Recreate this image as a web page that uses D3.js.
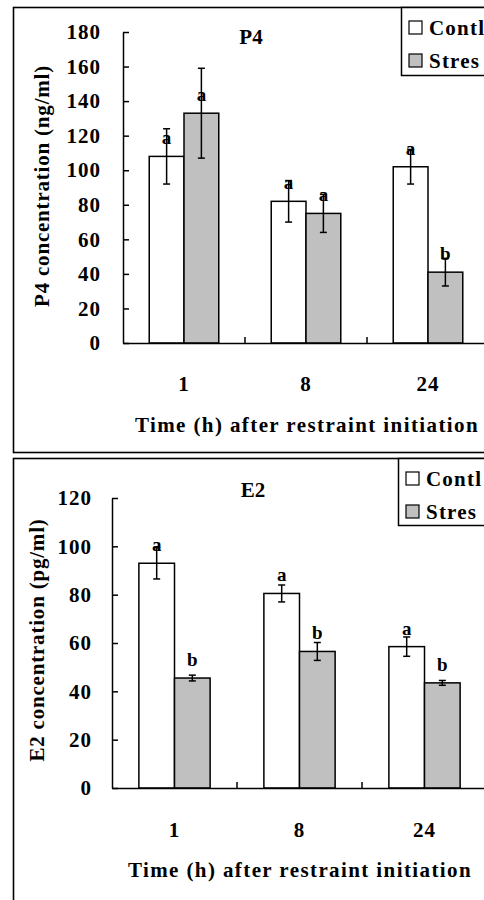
<!DOCTYPE html>
<html>
<head>
<meta charset="utf-8">
<script src="https://cdn.jsdelivr.net/npm/d3@7/dist/d3.min.js"></script>
<style>
  body { margin: 0; background: #fff; }
  svg text { font-family: "Liberation Serif", "Times New Roman", serif; font-weight: bold; fill: #000; }
</style>
</head>
<body>
<div id="chart"></div>
<script>
var timeLabels = ["1", "8", "24"];
var seriesNames = ["Contl", "Stres"];

// P4 (ng/ml)
var p4Control = [108, 82, 102];
var p4ControlErr = [16, 12, 10];
var p4Stress = [133, 75, 41];
var p4StressErr = [26, 11, 8];
var p4ControlLetters = ["a", "a", "a"];
var p4StressLetters = ["a", "a", "b"];
var p4Ticks = [0, 20, 40, 60, 80, 100, 120, 140, 160, 180];

// E2 (pg/ml)
var e2Control = [93, 80.5, 58.5];
var e2ControlErr = [6.5, 3.5, 4];
var e2Stress = [45.5, 56.5, 43.5];
var e2StressErr = [1.2, 3.7, 1];
var e2ControlLetters = ["a", "a", "a"];
var e2StressLetters = ["b", "b", "b"];
var e2Ticks = [0, 20, 40, 60, 80, 100, 120];

var fills = ["#ffffff", "#c0c0c0"];

var svg = d3.select("#chart").append("svg")
    .attr("width", 484)
    .attr("height", 900);

drawPanel({
  frame: {x: 13, y: 7, h: 445},
  plot: {left: 123, right: 489, top: 32, bottom: 343},
  ticks: p4Ticks,
  control: p4Control, controlErr: p4ControlErr, controlLetters: p4ControlLetters,
  stress: p4Stress, stressErr: p4StressErr, stressLetters: p4StressLetters,
  title: "P4", titleX: 251, titleY: 44,
  yTitle: "P4 concentration (ng/ml)", yTitleX: 49, yTitleY: 186,
  xTitleX: 307, xTitleY: 432,
  tickPad: 22, labelPad: 33,
  legend: {x: 401, y: 7, h: 68}
});

drawPanel({
  frame: {x: 13, y: 458, h: 460},
  plot: {left: 112, right: 487, top: 498, bottom: 788},
  ticks: e2Ticks,
  control: e2Control, controlErr: e2ControlErr, controlLetters: e2ControlLetters,
  stress: e2Stress, stressErr: e2StressErr, stressLetters: e2StressLetters,
  title: "E2", titleX: 253, titleY: 497,
  yTitle: "E2 concentration (pg/ml)", yTitleX: 44, yTitleY: 640,
  xTitleX: 300, xTitleY: 877,
  tickPad: 20, labelPad: 34,
  legend: {x: 398, y: 458, h: 67}
});

function drawPanel(o) {
  var g = svg.append("g");
  var p = o.plot;

  // outer frame
  g.append("rect")
    .attr("x", o.frame.x + 0.5).attr("y", o.frame.y + 0.5)
    .attr("width", 600).attr("height", o.frame.h)
    .attr("fill", "none").attr("stroke", "#000").attr("stroke-width", 1.6);

  var x = d3.scaleBand().domain(timeLabels).range([p.left, p.right])
      .paddingInner(0.43).paddingOuter(0.215);
  var xs = d3.scaleBand().domain([0, 1]).range([0, x.bandwidth()]);
  var y = d3.scaleLinear().domain([0, d3.max(o.ticks)]).range([p.bottom, p.top]);

  var rows = [];
  timeLabels.forEach(function(t, i) {
    rows.push({t: t, s: 0, v: o.control[i], e: o.controlErr[i], l: o.controlLetters[i]});
    rows.push({t: t, s: 1, v: o.stress[i], e: o.stressErr[i], l: o.stressLetters[i]});
  });
  var cx = function(d) { return x(d.t) + xs(d.s) + xs.bandwidth() / 2; };

  g.selectAll(".bar").data(rows).enter().append("rect")
    .attr("class", "bar")
    .attr("x", function(d) { return x(d.t) + xs(d.s); })
    .attr("y", function(d) { return y(d.v); })
    .attr("width", xs.bandwidth())
    .attr("height", function(d) { return y(0) - y(d.v); })
    .attr("fill", function(d) { return fills[d.s]; })
    .attr("stroke", "#000").attr("stroke-width", 1.5);

  var err = g.selectAll(".err").data(rows).enter().append("g").attr("class", "err")
    .attr("stroke", "#000").attr("stroke-width", 1.5);
  err.append("line")
    .attr("x1", cx).attr("x2", cx)
    .attr("y1", function(d) { return y(d.v + d.e); })
    .attr("y2", function(d) { return y(d.v - d.e); });
  [1, -1].forEach(function(k) {
    err.append("line")
      .attr("x1", function(d) { return cx(d) - 3.5; })
      .attr("x2", function(d) { return cx(d) + 3.5; })
      .attr("y1", function(d) { return y(d.v + k * d.e); })
      .attr("y2", function(d) { return y(d.v + k * d.e); });
  });

  g.selectAll(".sig").data(rows).enter().append("text")
    .attr("class", "sig")
    .attr("x", cx)
    .attr("y", function(d) { return y(d.v) - 12; })
    .attr("text-anchor", "middle")
    .style("font-size", "19px")
    .text(function(d) { return d.l; });

  // y axis, ticks point inward
  var ya = g.append("g")
    .attr("transform", "translate(" + p.left + ",0)")
    .call(d3.axisLeft(y).tickValues(o.ticks).tickSizeInner(-6).tickSizeOuter(0).tickPadding(o.tickPad));
  ya.selectAll("text").style("font-size", "21px").style("letter-spacing", "1px");
  ya.selectAll("path, line").attr("stroke", "#000").attr("stroke-width", 1.5);

  // x axis with labels at group centres
  var xa = g.append("g")
    .attr("transform", "translate(0," + p.bottom + ")")
    .call(d3.axisBottom(x).tickSize(0).tickPadding(o.labelPad));
  xa.selectAll("text").style("font-size", "21px").style("letter-spacing", "1px");
  xa.select(".domain").attr("stroke", "#000").attr("stroke-width", 1.5);

  // separator ticks between groups
  g.selectAll(".sep").data(timeLabels.slice(1)).enter().append("line")
    .attr("x1", function(t) { return x(t) - x.step() * x.paddingInner() / 2; })
    .attr("x2", function(t) { return x(t) - x.step() * x.paddingInner() / 2; })
    .attr("y1", p.bottom).attr("y2", p.bottom - 6)
    .attr("stroke", "#000").attr("stroke-width", 1.5);

  g.append("text")
    .attr("x", o.titleX).attr("y", o.titleY)
    .attr("text-anchor", "middle")
    .style("font-size", "21px")
    .text(o.title);

  g.append("text")
    .attr("x", o.xTitleX).attr("y", o.xTitleY)
    .attr("text-anchor", "middle")
    .style("font-size", "21px").style("letter-spacing", "1.4px")
    .text("Time (h) after restraint initiation");

  g.append("text")
    .attr("transform", "translate(" + o.yTitleX + "," + o.yTitleY + ") rotate(-90)")
    .attr("text-anchor", "middle")
    .style("font-size", "21px").style("letter-spacing", "0.8px")
    .text(o.yTitle);

  // legend
  var lg = g.append("g").attr("transform", "translate(" + o.legend.x + "," + o.legend.y + ")");
  lg.append("rect")
    .attr("x", 0.5).attr("y", 0.5).attr("width", 200).attr("height", o.legend.h)
    .attr("fill", "#fff").attr("stroke", "#000").attr("stroke-width", 1.5);
  seriesNames.forEach(function(name, i) {
    lg.append("rect")
      .attr("x", 8).attr("y", 14 + i * 33).attr("width", 13).attr("height", 13)
      .attr("fill", fills[i]).attr("stroke", "#000").attr("stroke-width", 1.2);
    lg.append("text")
      .attr("x", 28).attr("y", 28 + i * 33)
      .style("font-size", "21px").style("letter-spacing", "1.2px")
      .text(name);
  });
}
</script>
</body>
</html>
